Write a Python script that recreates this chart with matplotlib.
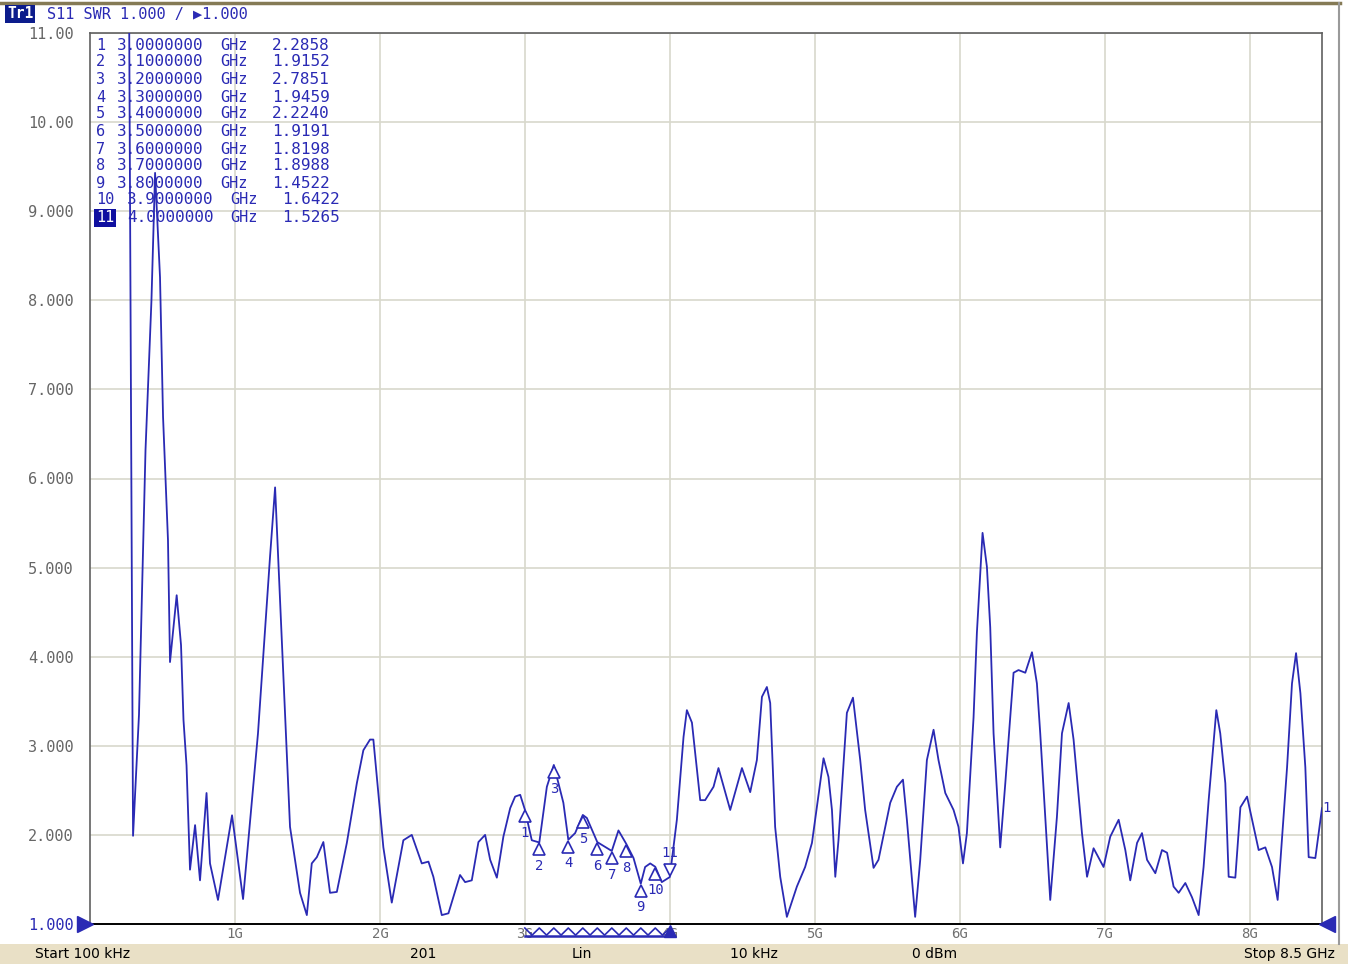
import numpy as np
import matplotlib
matplotlib.use("Agg")
import matplotlib.pyplot as plt
from matplotlib.lines import Line2D
from matplotlib.patches import Rectangle
import matplotlib.transforms as mtransforms

# trace vertices (GHz, SWR)
freq_ghz = [0.0001, 0.262, 0.297, 0.338, 0.383, 0.424, 0.449, 0.483, 0.504, 0.538,
            0.552, 0.598, 0.628, 0.645, 0.666, 0.690, 0.725, 0.759, 0.804, 0.828,
            0.883, 0.980, 1.056, 1.159, 1.242, 1.277, 1.311, 1.380, 1.449, 1.496,
            1.530, 1.565, 1.610, 1.656, 1.703, 1.772, 1.841, 1.886, 1.932, 1.955,
            2.024, 2.082, 2.162, 2.220, 2.289, 2.335, 2.369, 2.427, 2.473, 2.553,
            2.588, 2.634, 2.680, 2.726, 2.761, 2.807, 2.852, 2.899, 2.933, 2.968,
            3.000, 3.048, 3.100, 3.152, 3.200, 3.266, 3.300, 3.347, 3.400, 3.428,
            3.500, 3.600, 3.646, 3.700, 3.750, 3.800, 3.830, 3.865, 3.900, 3.945,
            4.000, 4.049, 4.095, 4.118, 4.153, 4.210, 4.244, 4.302, 4.336, 4.417,
            4.498, 4.555, 4.601, 4.636, 4.670, 4.693, 4.727, 4.762, 4.808, 4.877,
            4.934, 4.981, 5.015, 5.061, 5.095, 5.119, 5.142, 5.164, 5.222, 5.264,
            5.314, 5.348, 5.406, 5.440, 5.521, 5.567, 5.609, 5.636, 5.693, 5.728,
            5.774, 5.820, 5.854, 5.901, 5.958, 5.992, 6.023, 6.050, 6.096, 6.119,
            6.158, 6.188, 6.211, 6.234, 6.280, 6.315, 6.349, 6.372, 6.406, 6.453,
            6.499, 6.533, 6.556, 6.625, 6.671, 6.706, 6.752, 6.786, 6.844, 6.879,
            6.924, 6.993, 7.039, 7.097, 7.143, 7.177, 7.224, 7.258, 7.293, 7.350,
            7.396, 7.431, 7.476, 7.511, 7.557, 7.603, 7.649, 7.683, 7.718, 7.771,
            7.798, 7.833, 7.856, 7.902, 7.937, 7.983, 8.018, 8.063, 8.109, 8.155,
            8.194, 8.259, 8.293, 8.321, 8.351, 8.385, 8.408, 8.454, 8.500]
swr = [14.0, 14.0, 1.99, 3.35, 6.32, 8.00, 9.43, 8.26, 6.69, 5.31,
       3.94, 4.69, 4.13, 3.29, 2.78, 1.61, 2.11, 1.49, 2.47, 1.68,
       1.27, 2.22, 1.28, 3.14, 5.12, 5.90, 4.64, 2.09, 1.35, 1.10,
       1.68, 1.75, 1.92, 1.35, 1.36, 1.91, 2.58, 2.95, 3.07, 3.07,
       1.86, 1.24, 1.94, 2.00, 1.68, 1.70, 1.53, 1.10, 1.12, 1.55,
       1.47, 1.49, 1.92, 2.00, 1.72, 1.52, 1.98, 2.30, 2.43, 2.45,
       2.2858, 1.94, 1.9152, 2.54, 2.7851, 2.36, 1.9459, 2.02, 2.2240, 2.19,
       1.9191, 1.8198, 2.05, 1.8988, 1.74, 1.4522, 1.64, 1.68, 1.6422, 1.47,
       1.5265, 2.17, 3.10, 3.40, 3.26, 2.39, 2.39, 2.54, 2.75, 2.28,
       2.75, 2.48, 2.84, 3.55, 3.66, 3.48, 2.09, 1.53, 1.08, 1.42,
       1.64, 1.91, 2.31, 2.86, 2.65, 2.28, 1.53, 1.94, 3.37, 3.54,
       2.84, 2.28, 1.63, 1.72, 2.36, 2.54, 2.62, 2.17, 1.08, 1.72,
       2.84, 3.18, 2.84, 2.47, 2.28, 2.09, 1.68, 2.02, 3.32, 4.27,
       5.39, 5.01, 4.33, 3.14, 1.86, 2.58, 3.32, 3.82, 3.85, 3.82,
       4.05, 3.70, 3.14, 1.27, 2.20, 3.14, 3.48, 3.07, 2.02, 1.53,
       1.85, 1.64, 1.98, 2.17, 1.83, 1.49, 1.91, 2.02, 1.72, 1.57,
       1.83, 1.80, 1.42, 1.35, 1.46, 1.30, 1.10, 1.64, 2.39, 3.40,
       3.14, 2.58, 1.53, 1.52, 2.31, 2.43, 2.17, 1.83, 1.86, 1.64,
       1.27, 2.76, 3.70, 4.04, 3.59, 2.76, 1.75, 1.74, 2.30]

marker_num = list(range(1, 12))
marker_freq = [3.0, 3.1, 3.2, 3.3, 3.4, 3.5, 3.6, 3.7, 3.8, 3.9, 4.0]
marker_swr = [2.2858, 1.9152, 2.7851, 1.9459, 2.2240, 1.9191, 1.8198, 1.8988, 1.4522, 1.6422, 1.5265]

ytick_vals = list(range(1, 12))
ytick_labels = ["1.000", "2.000", "3.000", "4.000", "5.000", "6.000", "7.000",
                "8.000", "9.000", "10.00", "11.00"]
xtick_vals = [1, 2, 3, 4, 5, 6, 7, 8]
xtick_labels = ["1G", "2G", "3G", "4G", "5G", "6G", "7G", "8G"]
status_texts = ["Start 100 kHz", "201", "Lin", "10 kHz", "0 dBm", "Stop 8.5 GHz"]

W, H = 1348, 964
blue = "#2a2ab4"
mono = ["DejaVu Sans Mono", "DejaVu Sans"]


def fx(x):
    return x / W


def fy(y):
    return 1 - y / H


fig = plt.figure(figsize=(W / 100, H / 100), dpi=100)
fig.patch.set_facecolor("white")

ax = fig.add_axes([fx(90), fy(924), (1322 - 90) / W, (924 - 33) / H])
ax.set_xlim(0, 8.5)
ax.set_ylim(1, 11)
ax.plot(freq_ghz, swr, color=blue, lw=1.3, zorder=3)

ax.set_xticks(xtick_vals)
ax.set_xticklabels(xtick_labels, color="#707070", fontsize=10, family=mono)
ax.set_yticks(ytick_vals)
ax.set_yticklabels(ytick_labels, fontsize=11, family=mono)
for lab in ax.get_yticklabels():
    lab.set_color("#666666")
ax.get_yticklabels()[0].set_color(blue)
ax.tick_params(axis="both", length=0)
ax.tick_params(axis="y", pad=12)
ax.tick_params(axis="x", pad=2)
ax.grid(color="#d8d8cc", lw=1.2, zorder=0)
for side in ["top", "right", "left"]:
    ax.spines[side].set_color("#606060")
    ax.spines[side].set_linewidth(1.2)
ax.spines["bottom"].set_color("black")
ax.spines["bottom"].set_linewidth(1.4)

# marker triangles with numbers
down5 = mtransforms.offset_copy(ax.transData, fig=fig, x=0, y=-5, units="points")
down17 = mtransforms.offset_copy(ax.transData, fig=fig, x=0, y=-17, units="points")
up5 = mtransforms.offset_copy(ax.transData, fig=fig, x=0, y=5, units="points")
up17 = mtransforms.offset_copy(ax.transData, fig=fig, x=0, y=17, units="points")
for n, f, v in zip(marker_num, marker_freq, marker_swr):
    if n == 11:
        ax.plot(f, v, marker="v", ms=9, mfc="white", mec=blue, mew=1.2, transform=up5, zorder=4)
        ax.text(f, v, str(n), transform=up17, ha="center", va="center", color=blue,
                fontsize=10, family=mono, zorder=5)
    else:
        ax.plot(f, v, marker="^", ms=9, mfc="white", mec=blue, mew=1.2, transform=down5, zorder=4)
        ax.text(f, v, str(n), transform=down17, ha="center", va="center", color=blue,
                fontsize=10, family=mono, zorder=5)

# stimulus bar for the marker span
bt = mtransforms.blended_transform_factory(ax.transData, ax.transAxes)
zx, zy = [], []
for i, f in enumerate(marker_freq):
    zx.append(f)
    zy.append(-0.0045)
    if i < len(marker_freq) - 1:
        zx.append((f + marker_freq[i + 1]) / 2)
        zy.append(-0.0125)
ax.plot(zx, zy, color=blue, lw=1.2, transform=bt, clip_on=False, zorder=5)
ax.plot([marker_freq[0], marker_freq[-1]], [-0.0135, -0.0135], color=blue, lw=1.8,
        transform=bt, clip_on=False, zorder=5)
ax.plot(marker_freq[-1], -0.008, marker="^", ms=8, color=blue, transform=bt, clip_on=False, zorder=6)

# reference level triangles
ax.plot(-0.004, 0, marker=">", ms=11, color=blue, transform=ax.transAxes, clip_on=False, zorder=6)
ax.plot(1.004, 0, marker="<", ms=11, color=blue, transform=ax.transAxes, clip_on=False, zorder=6)
fig.text(fx(1327), fy(808), "1", color=blue, fontsize=10, family=mono, ha="center", va="center")

# marker table
rows_y = [45, 62, 80, 97, 114, 131, 149, 166, 183, 200, 218]
for n, f, v, ry in zip(marker_num, marker_freq, marker_swr, rows_y):
    shift = 10 if n >= 10 else 0
    if n == 11:
        fig.text(fx(96), fy(ry), str(n), color="white", fontsize=11, family=mono, va="center",
                 bbox=dict(boxstyle="square,pad=0.1", fc="#1010a0", ec="none"))
    else:
        fig.text(fx(96), fy(ry), str(n), color=blue, fontsize=11, family=mono, va="center")
    fig.text(fx(117 + shift), fy(ry), "%.7f" % f, color=blue, fontsize=11.5, family=mono, va="center")
    fig.text(fx(220 + shift), fy(ry), "GHz", color=blue, fontsize=11, family=mono, va="center")
    fig.text(fx(272 + shift), fy(ry), "%.4f" % v, color=blue, fontsize=11.5, family=mono, va="center")

# header line
fig.text(fx(7), fy(14), "Tr1", color="white", fontsize=10.5, family=mono, va="center",
         fontweight="bold", bbox=dict(boxstyle="square,pad=0.12", fc="#0c1c8c", ec="none"))
fig.text(fx(47), fy(14), "S11 SWR 1.000 / \u25b61.000", color=blue, fontsize=11,
         family=mono, va="center")

# frame lines and status bar
fig.add_artist(Line2D([0, fx(1340)], [fy(3), fy(3)], color="#857a55", lw=2.5))
fig.add_artist(Line2D([fx(1339), fx(1339)], [fy(3), fy(944)], color="#9a9a9a", lw=1.5))
fig.add_artist(Rectangle((0, 0), 1, 20 / H, transform=fig.transFigure,
                         fc="#e9e0c6", ec="none", zorder=0))
status_x = [35, 410, 572, 730, 912, 1335]
for i, (t, sx) in enumerate(zip(status_texts, status_x)):
    fig.text(fx(sx), fy(954), t, color="black", fontsize=10, va="center",
             ha="right" if i == len(status_texts) - 1 else "left")

fig.savefig("out.png", dpi=100)
